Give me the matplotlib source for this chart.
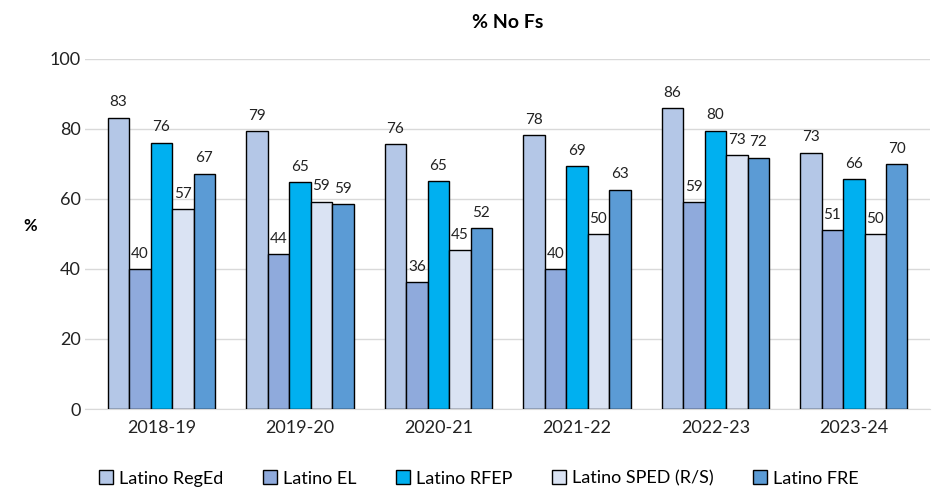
import numpy as np
import matplotlib.pyplot as plt

plt.rcParams['font.family'] = ['Lato', 'DejaVu Sans']

years = ["2018-19", "2019-20", "2020-21", "2021-22", "2022-23", "2023-24"]
series_names = ["Latino RegEd", "Latino EL", "Latino RFEP", "Latino SPED (R/S)", "Latino FRE"]
reged = [83.2, 79.3, 75.7, 78.2, 85.9, 73.2]
el = [40.0, 44.3, 36.3, 40.0, 59.1, 51.0]
rfep = [76.1, 64.8, 65.1, 69.3, 79.5, 65.7]
sped = [57.1, 59.2, 45.4, 50.0, 72.6, 50.0]
fre = [67.2, 58.6, 51.7, 62.7, 71.8, 70.0]
colors = ["#B4C7E7", "#8FAADC", "#00B0F0", "#DAE3F3", "#5B9BD5"]

fig = plt.figure(figsize=(9.48, 4.91), dpi=100)
ax = fig.add_axes([0.09, 0.167, 0.891, 0.713])

x = np.arange(len(years))
w = 0.155
all_series = [reged, el, rfep, sped, fre]
for i, (vals, name, c) in enumerate(zip(all_series, series_names, colors)):
    pos = x + (i - 2) * w
    bars = ax.bar(pos, vals, w, color=c, edgecolor="black", linewidth=1.0,
                  label=name, zorder=3)
    for b, v in zip(bars, vals):
        ax.annotate(f"{v:.0f}", (b.get_x() + b.get_width() / 2, v),
                    xytext=(0, 6), textcoords="offset points",
                    ha="center", va="bottom", fontsize=11, color="#222222")

ax.set_ylim(0, 100)
ax.set_xlim(-0.55, len(years) - 0.45)
ax.set_yticks(range(0, 101, 20))
ax.set_xticks(x)
ax.set_xticklabels(years)
ax.tick_params(axis="both", length=0, labelsize=13, colors="#222222")
ax.tick_params(axis="x", pad=8)
ax.grid(axis="y", color="#D9D9D9", linewidth=1.0, zorder=0)
for s in ["top", "right", "left"]:
    ax.spines[s].set_visible(False)
ax.spines["bottom"].set_color("#D9D9D9")

ax.set_ylabel("%", rotation=0, fontweight="bold", fontsize=12, labelpad=20)
ax.yaxis.set_label_coords(-0.065, 0.5)
ax.set_title("% No Fs", fontweight="bold", fontsize=14, pad=22)

fig.legend(*ax.get_legend_handles_labels(), loc="upper center",
           bbox_to_anchor=(0.505, 0.075), ncol=5, frameon=False,
           fontsize=13, handlelength=0.8, handleheight=0.8, handletextpad=0.3,
           columnspacing=2.2)

fig.savefig("out.png", dpi=100)
